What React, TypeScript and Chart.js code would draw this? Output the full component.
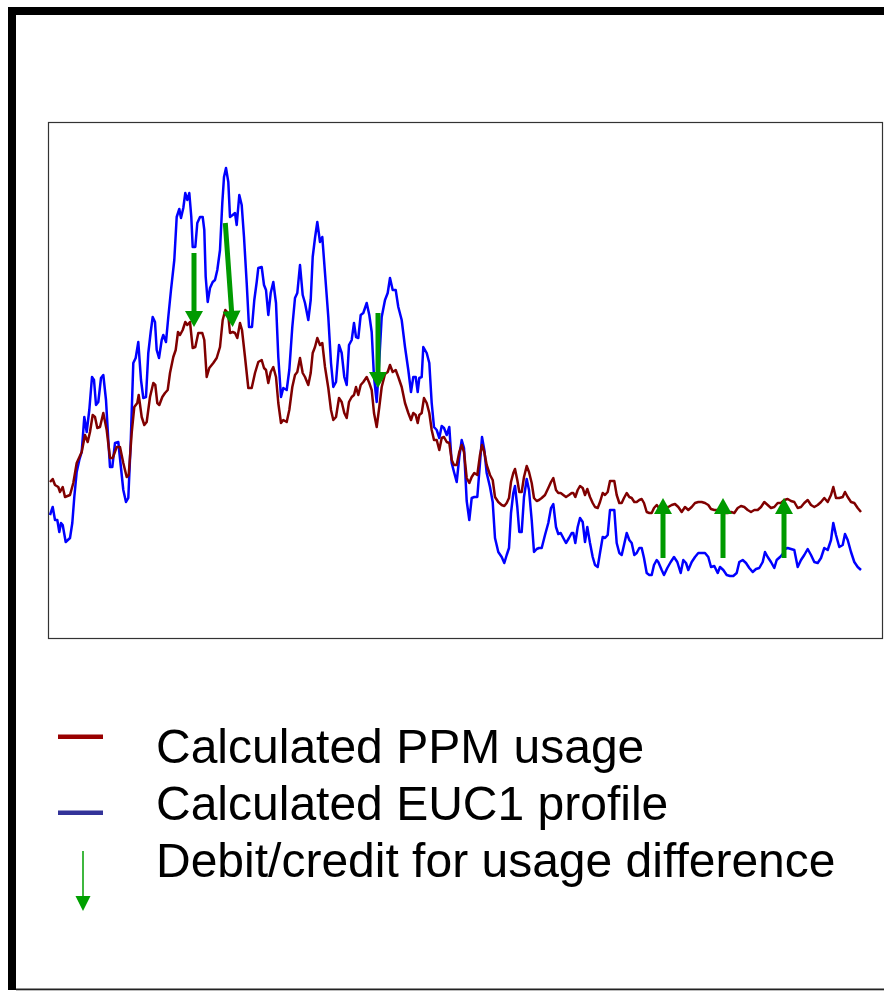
import React, { useEffect, useRef } from "react";
import { Chart, registerables } from "chart.js";

Chart.register(...registerables);

// time (minutes from start) , usage (W)
const ppmUsage: [number, number][] = [
  [1, 156], [3.7, 159], [6, 153], [9.3, 151], [11, 146], [13.7, 151], [16, 141], [21, 143], [24.3, 155], [27.7, 175],
  [32.7, 186], [36, 203], [38.7, 196], [41, 206], [43.7, 223], [46, 221], [48.3, 210], [51, 211], [54.3, 225], [57.7, 208],
  [61, 180], [63.7, 180], [67.7, 191], [71, 191], [74.3, 175], [77.7, 161], [79.7, 163], [82.7, 205], [85.3, 231], [88.3, 235],
  [89.7, 243], [92.7, 221], [95.3, 213], [97.7, 216], [101, 241], [104.3, 255], [106.3, 253], [108.3, 235], [110.3, 233], [113.3, 241],
  [116, 245], [118.7, 248], [121, 265], [124.3, 281], [126.7, 288], [129, 306], [131, 303], [133.7, 308], [136.3, 316], [138.3, 313],
  [141, 316], [143.7, 290], [146.3, 291], [149.3, 305], [153.3, 305], [155.3, 298], [157.7, 261], [160.3, 270], [164.3, 275], [167.7, 280],
  [171, 291], [173.7, 318], [176.3, 328], [179, 325], [181, 305], [183.7, 306], [186, 305], [188.3, 300], [191, 315], [193, 308],
  [196, 281], [199.3, 250], [202.7, 250], [206, 265], [209.3, 276], [212.7, 278], [215, 270], [217, 268], [219.3, 255], [221.7, 266],
  [224.3, 271], [227, 261], [229.3, 235], [232, 215], [234.3, 218], [237.7, 216], [240.3, 228], [243.3, 251], [246, 263], [248.3, 266],
  [251, 280], [253.7, 265], [256, 261], [259.3, 253], [261.7, 265], [263.7, 285], [266, 291], [268.3, 300], [271, 293], [273.3, 295],
  [276, 271], [279.3, 250], [282, 228], [284.3, 218], [287, 221], [290, 240], [292.7, 236], [295.3, 225], [297.7, 220], [300, 236],
  [302.7, 241], [305, 243], [307, 251], [309.3, 243], [311.7, 253], [314.3, 256], [317.7, 261], [320.3, 255], [322.7, 248], [325, 225],
  [327.7, 211], [330.3, 231], [332.7, 251], [336, 264], [338.7, 266], [341, 273], [343.7, 266], [346.7, 268], [349.3, 261], [352.7, 251],
  [356, 235], [359.3, 225], [362, 218], [364.3, 225], [366.7, 223], [368.7, 215], [370.3, 223], [372.7, 225], [375, 240], [377.7, 235],
  [380.3, 225], [382.7, 208], [385, 198], [387.7, 198], [390.3, 188], [392.7, 200], [395, 201], [397.7, 196], [400.3, 195], [402.7, 178],
  [405, 173], [407.7, 173], [410.3, 186], [412.7, 193], [415, 186], [417.7, 160], [420.3, 155], [422.7, 161], [425.3, 165], [428.3, 163],
  [431, 183], [433, 193], [435.3, 186], [437.7, 173], [441, 163], [443.7, 158], [446, 141], [449.3, 136], [452.7, 133], [455.3, 132],
  [457.7, 135], [460, 140], [462, 156], [464.3, 165], [466, 169], [468.3, 158], [470.3, 146], [472.7, 146], [475, 161], [477.7, 172],
  [480, 166], [482.7, 155], [485, 140], [487.7, 137], [490, 138], [492.7, 140], [496, 143], [499.3, 150], [502, 156], [504.3, 160],
  [507, 148], [509.3, 145], [511.7, 145], [514.3, 143], [517, 141], [520, 143], [522.7, 145], [524.3, 145], [526.3, 141], [528.7, 148],
  [531, 152], [533.7, 150], [536, 143], [538.3, 149], [541, 141], [543.7, 135], [546, 131], [548.7, 130], [551, 136], [553.7, 145],
  [556, 143], [558.7, 146], [561, 157], [563.7, 157], [565.3, 157], [567.7, 143], [570.3, 135], [572.7, 135], [575, 140], [577.7, 145],
  [580.3, 141], [582.7, 140], [585.3, 136], [587.7, 136], [590.3, 138], [592.7, 139], [595, 135], [597.7, 126], [600.3, 125], [602.7, 125],
  [605, 130], [607.7, 133], [609.3, 131], [612.7, 128], [616, 130], [619.3, 131], [622.7, 133], [626, 134], [629.3, 131], [632.7, 126],
  [636, 131], [639.3, 128], [642.7, 131], [646, 135], [649.3, 136], [652.7, 136], [656, 135], [659.3, 133], [662, 129], [665.3, 128],
  [668.7, 128], [672, 126], [675.3, 125], [678.7, 125], [682, 126], [685.3, 125], [688.7, 130], [692, 132], [695.3, 131], [698.7, 128],
  [702, 126], [705.3, 128], [708.7, 128], [712, 131], [715.3, 136], [718.7, 133], [722, 130], [725.3, 131], [728.7, 135], [732, 135],
  [735.3, 138], [738.7, 139], [742, 137], [745.3, 136], [748.7, 130], [752, 131], [755.3, 135], [758.7, 138], [762, 133], [765.3, 131],
  [768.7, 133], [772, 136], [775.3, 140], [778.7, 136], [782, 143], [784.3, 151], [787, 140], [790.3, 140], [793.7, 141], [796, 146],
  [798.7, 141], [802, 136], [805.3, 135], [808.7, 130], [812, 126],
];

const euc1Profile: [number, number][] = [
  [1, 123], [3.7, 131], [6, 118], [8.3, 118], [10.3, 106], [12, 115], [13.7, 113], [16.7, 96], [21, 100], [23.3, 115],
  [25.3, 141], [27.7, 166], [30.3, 178], [32.7, 186], [35.3, 221], [37.7, 206], [40.3, 228], [43, 261], [45, 258], [47, 233],
  [49.3, 236], [52, 260], [54.3, 263], [57, 238], [59.3, 198], [61, 171], [63.3, 171], [66, 195], [69.3, 196], [72, 170],
  [74.3, 148], [77, 136], [79.3, 140], [81.7, 195], [84.3, 275], [86.7, 280], [89.3, 296], [92, 258], [94.3, 240], [97, 241],
  [99.3, 285], [101.7, 306], [103.7, 321], [106, 316], [107.7, 288], [110, 280], [112.7, 298], [114.3, 303], [117, 296], [119.3, 321],
  [122, 348], [125.3, 378], [127.7, 421], [130.3, 429], [132, 420], [134.3, 430], [136.3, 445], [138.3, 438], [140.3, 445], [142.3, 421],
  [143.7, 391], [146.3, 391], [148.3, 415], [151, 421], [153.7, 421], [155.3, 408], [156.7, 361], [158.7, 336], [161, 350], [163.7, 356],
  [166, 358], [168.3, 368], [171, 388], [173.3, 435], [175, 461], [177, 470], [179.3, 456], [181, 421], [183.7, 423], [186, 425],
  [187.7, 413], [190.3, 443], [192.7, 433], [195, 401], [197.7, 355], [200, 311], [203, 311], [205.3, 338], [207.7, 356], [209.3, 370],
  [212.7, 371], [215, 353], [217, 348], [219.3, 323], [221.7, 345], [224.3, 356], [227, 335], [229.3, 281], [232, 241], [234.3, 250],
  [237.7, 248], [240.3, 268], [243.3, 311], [246, 340], [248.3, 345], [251, 373], [253.7, 343], [256, 335], [259.3, 318], [261.7, 338],
  [263.7, 381], [266, 400], [268.3, 416], [271, 396], [273.3, 401], [276, 365], [279.3, 321], [282, 275], [284.3, 251], [287, 256],
  [290, 293], [292.7, 285], [295.3, 261], [297.7, 253], [300, 293], [302.7, 298], [305, 315], [307, 301], [309.3, 300], [311.7, 323],
  [314.3, 325], [317.7, 335], [320.3, 323], [322.7, 306], [325, 261], [327.7, 236], [330.3, 278], [332.7, 321], [336, 338], [338.7, 345],
  [341, 360], [343.7, 348], [346.7, 348], [349.3, 331], [352.7, 318], [356, 291], [359.3, 268], [362, 246], [364.3, 261], [366.7, 261],
  [368.7, 246], [370.3, 260], [372.7, 261], [374.3, 291], [377.7, 285], [380.3, 275], [382.7, 235], [385, 211], [387.7, 208], [390.3, 200],
  [392.7, 212], [395, 210], [397.7, 203], [400.3, 211], [402.7, 175], [405, 166], [407.7, 156], [410.3, 181], [412.7, 198], [415, 190],
  [417.7, 137], [420.3, 118], [422.7, 140], [425.3, 141], [428.3, 141], [431, 175], [433, 201], [435.3, 188], [437.7, 165], [441, 151],
  [443.7, 136], [446, 100], [449.3, 86], [452.7, 81], [455.3, 75], [457.7, 83], [460, 90], [462, 125], [464.3, 145], [466, 152],
  [468.3, 131], [470.3, 106], [472.7, 106], [475, 141], [477.7, 159], [480, 148], [482.7, 118], [485, 86], [487.7, 89], [490, 90],
  [492.7, 90], [496, 103], [499.3, 115], [502, 130], [504.3, 134], [507, 111], [509.3, 104], [511.7, 105], [514.3, 100], [517, 95],
  [520, 100], [522.7, 105], [524.3, 105], [526.3, 95], [528.7, 111], [531, 120], [533.7, 116], [536, 96], [538.3, 111], [541, 95],
  [543.7, 81], [546, 73], [548.7, 71], [551, 85], [553.7, 101], [556, 100], [558.7, 103], [561, 128], [563.7, 128], [565.3, 128],
  [567.7, 95], [570.3, 85], [572.7, 83], [575, 93], [577.7, 105], [580.3, 98], [582.7, 95], [585.3, 83], [587.7, 85], [590.3, 90],
  [592.7, 90], [595, 80], [597.7, 65], [600.3, 63], [602.7, 63], [605, 73], [607.7, 78], [609.3, 76], [612.7, 68], [615, 63],
  [618.3, 70], [621.7, 76], [625, 81], [628.3, 76], [631.7, 65], [634.3, 78], [637, 75], [639.3, 68], [642.7, 76], [646, 81],
  [649.3, 85], [652.7, 85], [656, 85], [659.3, 81], [662, 71], [665.3, 72], [668.7, 65], [671, 71], [674.3, 68], [677.7, 63],
  [681, 62], [684.3, 62], [687.7, 65], [690.3, 76], [693.7, 78], [697, 75], [700.3, 70], [703.7, 66], [707, 69], [710.3, 70],
  [713.7, 76], [716, 86], [718.7, 81], [722, 76], [725.3, 70], [727.7, 78], [731, 81], [733.7, 84], [736, 89], [738.7, 90],
  [742, 89], [745.3, 88], [748.7, 71], [752, 78], [755.3, 83], [758.7, 89], [762, 83], [765.3, 76], [768.7, 75], [772, 80],
  [775.3, 90], [778.7, 88], [782, 98], [784.3, 115], [787, 103], [790.3, 91], [793.7, 93], [796, 104], [798.7, 98], [802, 86],
  [805.3, 76], [808.7, 71], [812, 68],
];

// debit/credit arrows: [time from, usage from, time to, usage to]
const diffArrows: [number, number, number, number][] = [
  [145, 385, 145, 311],
  [176.3, 415, 183.7, 311],
  [329, 325, 329, 250],
  [614, 80, 614, 140],
  [674, 80, 674, 140],
  [735, 80, 735, 140],
];

const legendLabels = [
  "Calculated PPM usage",
  "Calculated EUC1 profile",
  "Debit/credit for usage difference",
];

const X_MIN = 0;
const X_MAX = 834;
const Y_MIN = 0;
const Y_MAX = 515;

const W = 884;
const H = 991;

function drawArrow(ctx: CanvasRenderingContext2D, x0: number, y0: number, x1: number, y1: number, shaft: number, headW: number, headL: number, color: string) {
  const dx = x1 - x0;
  const dy = y1 - y0;
  const len = Math.hypot(dx, dy);
  const ux = dx / len;
  const uy = dy / len;
  const px = -uy;
  const py = ux;
  const bx = x1 - ux * headL;
  const by = y1 - uy * headL;
  ctx.save();
  ctx.fillStyle = color;
  ctx.beginPath();
  ctx.moveTo(x0 + px * shaft / 2, y0 + py * shaft / 2);
  ctx.lineTo(bx + px * shaft / 2, by + py * shaft / 2);
  ctx.lineTo(bx + px * headW / 2, by + py * headW / 2);
  ctx.lineTo(x1, y1);
  ctx.lineTo(bx - px * headW / 2, by - py * headW / 2);
  ctx.lineTo(bx - px * shaft / 2, by - py * shaft / 2);
  ctx.lineTo(x0 - px * shaft / 2, y0 - py * shaft / 2);
  ctx.closePath();
  ctx.fill();
  ctx.restore();
}

const decorPlugin = {
  id: "decor",
  afterDraw(chart: any) {
    const { ctx, chartArea, scales } = chart;
    const xs = scales.x;
    const ys = scales.y;
    diffArrows.forEach(([a, b, c, d]) => {
      drawArrow(ctx, xs.getPixelForValue(a), ys.getPixelForValue(b), xs.getPixelForValue(c), ys.getPixelForValue(d), 5, 18, 16, "#009a00");
    });
    ctx.save();
    ctx.strokeStyle = "#333";
    ctx.lineWidth = 1.2;
    ctx.strokeRect(chartArea.left - 0.5, chartArea.top - 0.5, chartArea.right - chartArea.left, chartArea.bottom - chartArea.top + 1);
    ctx.fillStyle = "#000";
    ctx.fillRect(8, 7, W - 8, 8);
    ctx.fillRect(8, 7, 8, 983);
    ctx.fillStyle = "#222";
    ctx.fillRect(16, 988.5, W - 16, 1.8);
    ctx.fillStyle = "#990000";
    ctx.fillRect(58, 734.5, 45, 4.5);
    ctx.fillStyle = "#333399";
    ctx.fillRect(58, 810.5, 45, 4.5);
    ctx.restore();
    drawArrow(ctx, 83, 851, 83, 911, 1.5, 15, 15, "#00a000");
  },
};

export default function App() {
  const ref = useRef<HTMLCanvasElement | null>(null);
  useEffect(() => {
    if (!ref.current) return;
    const chart = new Chart(ref.current, {
      type: "line",
      data: {
        datasets: [
          {
            label: legendLabels[0],
            data: ppmUsage.map(([x, y]) => ({ x, y })),
            borderColor: "#800000",
            borderWidth: 2.5,
            pointRadius: 0,
            tension: 0,
            borderJoinStyle: "round",
          },
          {
            label: legendLabels[1],
            data: euc1Profile.map(([x, y]) => ({ x, y })),
            borderColor: "#0000ff",
            borderWidth: 2.5,
            pointRadius: 0,
            tension: 0,
            borderJoinStyle: "round",
          },
        ],
      },
      options: {
        responsive: false,
        animation: false,
        events: [],
        layout: { padding: { left: 49, top: 123, right: 1, bottom: 353 } },
        plugins: { legend: { display: false }, tooltip: { enabled: false }, title: { display: false } },
        scales: {
          x: { type: "linear", min: X_MIN, max: X_MAX, display: false },
          y: { type: "linear", min: Y_MIN, max: Y_MAX, display: false },
        },
      },
      plugins: [decorPlugin],
    });
    return () => chart.destroy();
  }, []);

  const baselines = [764, 821, 878];
  return (
    <div style={{ position: "absolute", left: 0, top: 0, width: W, height: H, background: "#fff" }}>
      <canvas ref={ref} width={W} height={H} style={{ display: "block", width: W, height: H }} />
      {legendLabels.map((t, i) => (
        <div
          key={t}
          style={{
            position: "absolute",
            left: 156,
            top: baselines[i] - 41,
            fontFamily: '"Liberation Sans", Arial, sans-serif',
            fontSize: 48,
            lineHeight: "48px",
            color: "#000",
            whiteSpace: "nowrap",
          }}
        >
          {t}
        </div>
      ))}
    </div>
  );
}
